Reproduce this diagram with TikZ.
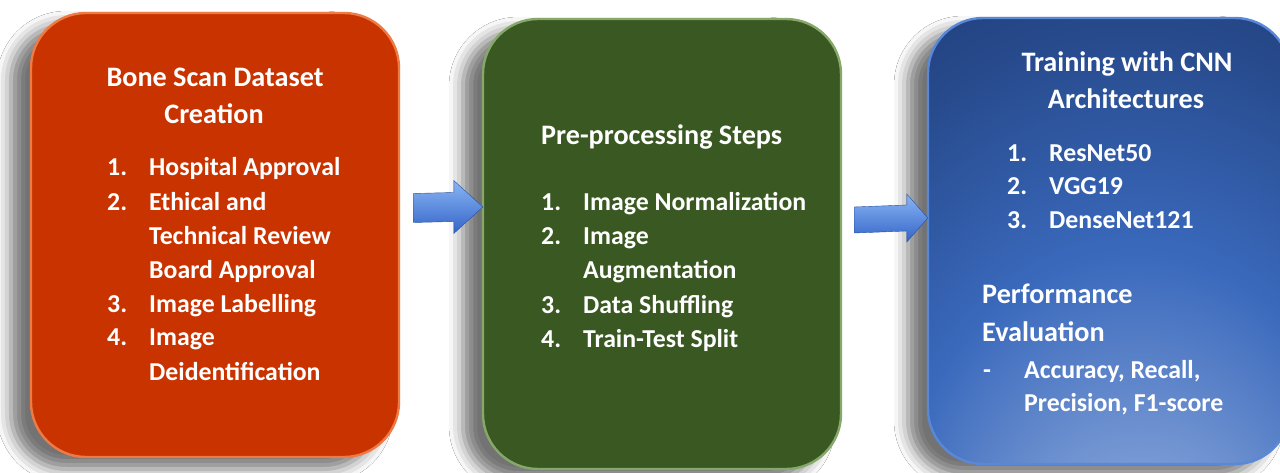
\documentclass[tikz,border=0pt]{standalone}
\usepackage{fontspec}
\setmainfont{Carlito}
\usetikzlibrary{calc,shadows.blur}
\definecolor{redfill}{HTML}{C93300}
\definecolor{redrim}{HTML}{EE7A45}
\definecolor{greenfill}{HTML}{3A5822}
\definecolor{greenrim}{HTML}{86A86A}
\definecolor{bluedark}{HTML}{1F3D78}
\definecolor{bluemid}{HTML}{3A69BC}
\definecolor{bluelight}{HTML}{9DB6E2}
\definecolor{bluerim}{HTML}{5A88D8}
\definecolor{arrowtop}{HTML}{8AB6F4}
\definecolor{arrowbot}{HTML}{3364C8}
\pgfdeclareradialshading{bluebox}{\pgfpoint{5bp}{-48bp}}{%
  color(0bp)=(bluelight);
  color(16bp)=(bluelight!65!bluemid);
  color(34bp)=(bluemid);
  color(52bp)=(bluedark!70!bluemid);
  color(64bp)=(bluedark);
  color(130bp)=(bluedark)}
\tikzset{
  stagebox/.style={rounded corners=55pt, line width=2.4pt, inner sep=0pt,
    blur shadow={shadow xshift=-20pt, shadow yshift=-12pt,
      shadow blur radius=14pt, shadow opacity=55}},
  bodytext/.style={text=white, font=\bfseries\fontsize{25.8}{30}\selectfont,
    inner sep=0pt, anchor=base west},
  headtext/.style={text=white, font=\bfseries\fontsize{28.2}{33}\selectfont,
    inner sep=0pt},
  blockarrow/.style={top color=arrowtop, bottom color=arrowbot,
    draw=arrowbot!80!black, line width=0.4pt, line join=miter},
}
\begin{document}
\begin{tikzpicture}[x=1pt,y=-1pt]
\useasboundingbox (0,0) rectangle (1280,473);
\fill[white] (0,0) rectangle (1280,473);

% boxes
\node[stagebox, fill=redfill, draw=redrim, minimum width=368pt, minimum height=444pt]
  (b1) at (215,235) {};
\node[stagebox, fill=greenfill, draw=greenrim, minimum width=358pt, minimum height=450pt]
  (b2) at (662,244) {};
\node[stagebox, shading=bluebox, draw=bluerim, minimum width=362pt, minimum height=446pt]
  (b3) at (1109,241) {};

% arrows
\coordinate (a1t) at ($(b1.east)+(13,-27)$);
\coordinate (a1h) at ($(b2.west)+(1,-37)$);
\path[blockarrow] (a1t) ++(0,-14.5) -- ($(a1h)+(-29,-14.5)$) -- ($(a1h)+(-29,-26.5)$)
  -- (a1h) -- ($(a1h)+(-29,26.5)$) -- ($(a1h)+(-29,14.5)$) -- ($(a1t)+(0,14.5)$) -- cycle;
\coordinate (a2t) at ($(b2.east)+(12,-24)$);
\coordinate (a2h) at ($(b3.west)+(1,-23)$);
\path[blockarrow] (a2t) ++(0,-13) -- ($(a2h)+(-21,-13)$) -- ($(a2h)+(-21,-24)$)
  -- (a2h) -- ($(a2h)+(-21,24)$) -- ($(a2h)+(-21,13)$) -- ($(a2t)+(0,13)$) -- cycle;

% box 1 text
\node[headtext, anchor=base] (t1a) at (215,87) {Bone Scan Dataset};
\node[headtext, anchor=base] (t1b) at (214,124) {Creation};
\node[bodytext] (n11) at (107,176) {1.};
\node[bodytext] (i11) at (149,176) {Hospital Approval};
\node[bodytext] (n12) at (107,211) {2.};
\node[bodytext] (i12) at (149,211) {Ethical and};
\node[bodytext] (i12b) at (149,245) {Technical Review};
\node[bodytext] (i12c) at (149,278) {Board Approval};
\node[bodytext] (n13) at (107,312) {3.};
\node[bodytext] (i13) at (149,312) {Image Labelling};
\node[bodytext] (n14) at (107,345) {4.};
\node[bodytext] (i14) at (149,345) {Image};
\node[bodytext] (i14b) at (149,380) {Deidentification};

% box 2 text
\node[headtext, anchor=base west] (t2) at (541,145) {Pre-processing Steps};
\node[bodytext] (n21) at (541,211) {1.};
\node[bodytext] (i21) at (583,211) {Image Normalization};
\node[bodytext] (n22) at (541,245) {2.};
\node[bodytext] (i22) at (583,245) {Image};
\node[bodytext] (i22b) at (583,278) {Augmentation};
\node[bodytext] (n23) at (541,313) {3.};
\node[bodytext] (i23) at (583,313) {Data Shuffling};
\node[bodytext] (n24) at (541,347) {4.};
\node[bodytext] (i24) at (583,347) {Train-Test Split};

% box 3 text
\node[headtext, anchor=base] (t3a) at (1127,72) {Training with CNN};
\node[headtext, anchor=base] (t3b) at (1126,109) {Architectures};
\node[bodytext] (n31) at (1007,162) {1.};
\node[bodytext] (i31) at (1049,162) {ResNet50};
\node[bodytext] (n32) at (1007,195) {2.};
\node[bodytext] (i32) at (1049,195) {VGG19};
\node[bodytext] (n33) at (1007,229) {3.};
\node[bodytext] (i33) at (1049,229) {DenseNet121};
\node[headtext, anchor=base west] (p1) at (982,303) {Performance};
\node[headtext, anchor=base west] (p2) at (982,341) {Evaluation};
\node[bodytext] (d1) at (983,378) {-};
\node[bodytext] (m1) at (1024,378) {Accuracy, Recall,};
\node[bodytext] (m2) at (1024,411) {Precision, F1-score};
\end{tikzpicture}
\end{document}
